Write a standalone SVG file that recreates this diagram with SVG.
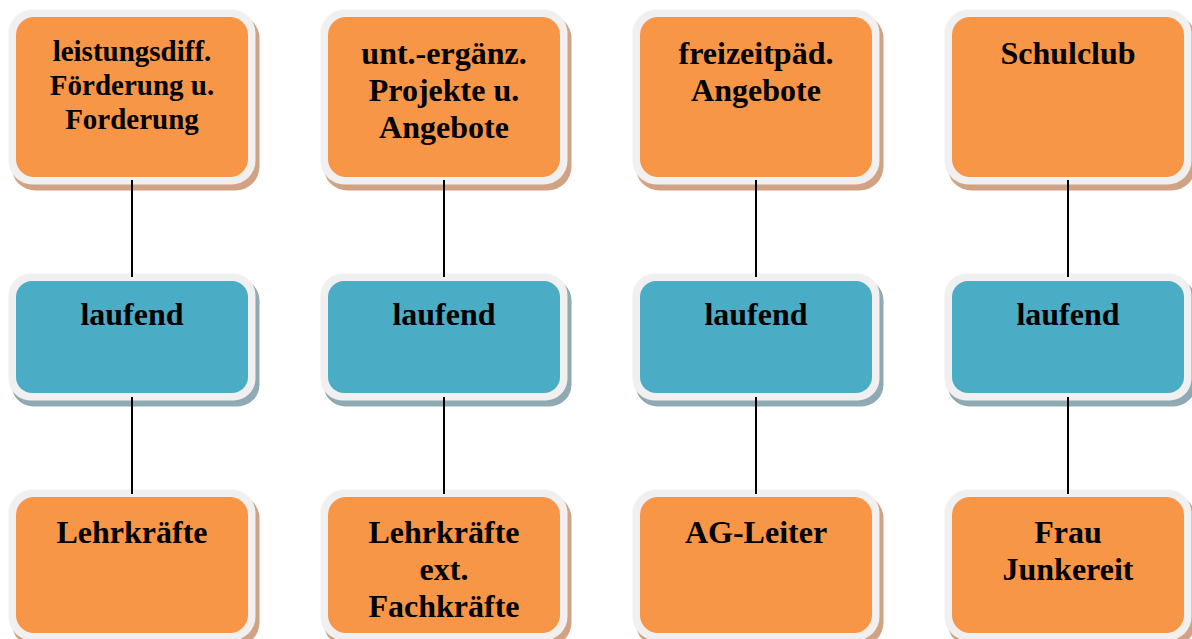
<svg xmlns="http://www.w3.org/2000/svg" width="1192" height="639" viewBox="0 0 1192 639">
  <defs>
    <style>
      .rim { fill: #f0f0f0; }
      .sh-o { fill: #d1a283; }
      .sh-b { fill: #8faab3; }
      .fill-o { fill: #f79646; }
      .fill-b { fill: #4bacc6; }
      .lbl { font-family: "Liberation Serif", "Times New Roman", serif; font-weight: bold; font-size: 32px; fill: #000; text-anchor: middle; }
      .lbl-s { font-size: 29px; }
      .link { stroke: #000; stroke-width: 2; fill: none; }
    </style>
  </defs>
  <rect width="1192" height="639" fill="#ffffff"/>

  <!-- top row -->
  <g id="n-leistung">
    <rect class="sh-o" x="11.5" y="14.5" width="248" height="176" rx="24"/>
    <rect class="rim" x="8.5" y="9.5" width="247" height="175" rx="24"/>
    <rect class="fill-o" x="16" y="17" width="232" height="160" rx="18"/>
    <text class="lbl lbl-s" x="132" y="61">leistungsdiff.</text>
    <text class="lbl lbl-s" x="132" y="95">Förderung u.</text>
    <text class="lbl lbl-s" x="132" y="129">Forderung</text>
  </g>
  <g id="n-projekte">
    <rect class="sh-o" x="323.5" y="14.5" width="248" height="176" rx="24"/>
    <rect class="rim" x="320.5" y="9.5" width="247" height="175" rx="24"/>
    <rect class="fill-o" x="328" y="17" width="232" height="160" rx="18"/>
    <text class="lbl" x="444" y="64">unt.-ergänz.</text>
    <text class="lbl" x="444" y="101">Projekte u.</text>
    <text class="lbl" x="444" y="138">Angebote</text>
  </g>
  <g id="n-freizeit">
    <rect class="sh-o" x="635.5" y="14.5" width="248" height="176" rx="24"/>
    <rect class="rim" x="632.5" y="9.5" width="247" height="175" rx="24"/>
    <rect class="fill-o" x="640" y="17" width="232" height="160" rx="18"/>
    <text class="lbl" x="756" y="64">freizeitpäd.</text>
    <text class="lbl" x="756" y="101">Angebote</text>
  </g>
  <g id="n-schulclub">
    <rect class="sh-o" x="947.5" y="14.5" width="248" height="176" rx="24"/>
    <rect class="rim" x="944.5" y="9.5" width="247" height="175" rx="24"/>
    <rect class="fill-o" x="952" y="17" width="232" height="160" rx="18"/>
    <text class="lbl" x="1068" y="64">Schulclub</text>
  </g>

  <!-- middle row -->
  <g id="n-laufend-1">
    <rect class="sh-b" x="11.5" y="278.5" width="248" height="128" rx="22"/>
    <rect class="rim" x="8.5" y="273.5" width="247" height="127" rx="22"/>
    <rect class="fill-b" x="16" y="281" width="232" height="112" rx="16"/>
    <text class="lbl" x="132" y="325">laufend</text>
  </g>
  <g id="n-laufend-2">
    <rect class="sh-b" x="323.5" y="278.5" width="248" height="128" rx="22"/>
    <rect class="rim" x="320.5" y="273.5" width="247" height="127" rx="22"/>
    <rect class="fill-b" x="328" y="281" width="232" height="112" rx="16"/>
    <text class="lbl" x="444" y="325">laufend</text>
  </g>
  <g id="n-laufend-3">
    <rect class="sh-b" x="635.5" y="278.5" width="248" height="128" rx="22"/>
    <rect class="rim" x="632.5" y="273.5" width="247" height="127" rx="22"/>
    <rect class="fill-b" x="640" y="281" width="232" height="112" rx="16"/>
    <text class="lbl" x="756" y="325">laufend</text>
  </g>
  <g id="n-laufend-4">
    <rect class="sh-b" x="947.5" y="278.5" width="248" height="128" rx="22"/>
    <rect class="rim" x="944.5" y="273.5" width="247" height="127" rx="22"/>
    <rect class="fill-b" x="952" y="281" width="232" height="112" rx="16"/>
    <text class="lbl" x="1068" y="325">laufend</text>
  </g>

  <!-- bottom row -->
  <g id="n-lehrkraefte">
    <rect class="sh-o" x="11.5" y="494.5" width="248" height="152" rx="24"/>
    <rect class="rim" x="8.5" y="489.5" width="247" height="151" rx="24"/>
    <rect class="fill-o" x="16" y="497" width="232" height="136" rx="18"/>
    <text class="lbl" x="132" y="543">Lehrkräfte</text>
  </g>
  <g id="n-fachkraefte">
    <rect class="sh-o" x="323.5" y="494.5" width="248" height="152" rx="24"/>
    <rect class="rim" x="320.5" y="489.5" width="247" height="151" rx="24"/>
    <rect class="fill-o" x="328" y="497" width="232" height="136" rx="18"/>
    <text class="lbl" x="444" y="543">Lehrkräfte</text>
    <text class="lbl" x="444" y="580">ext.</text>
    <text class="lbl" x="444" y="617">Fachkräfte</text>
  </g>
  <g id="n-ag-leiter">
    <rect class="sh-o" x="635.5" y="494.5" width="248" height="152" rx="24"/>
    <rect class="rim" x="632.5" y="489.5" width="247" height="151" rx="24"/>
    <rect class="fill-o" x="640" y="497" width="232" height="136" rx="18"/>
    <text class="lbl" x="756" y="543">AG-Leiter</text>
  </g>
  <g id="n-junkereit">
    <rect class="sh-o" x="947.5" y="494.5" width="248" height="152" rx="24"/>
    <rect class="rim" x="944.5" y="489.5" width="247" height="151" rx="24"/>
    <rect class="fill-o" x="952" y="497" width="232" height="136" rx="18"/>
    <text class="lbl" x="1068" y="543">Frau</text>
    <text class="lbl" x="1068" y="580">Junkereit</text>
  </g>

  <!-- connectors -->
  <g id="connectors">
    <line class="link" x1="132" y1="180" x2="132" y2="277"/>
    <line class="link" x1="132" y1="397" x2="132" y2="494"/>
    <line class="link" x1="444" y1="180" x2="444" y2="277"/>
    <line class="link" x1="444" y1="397" x2="444" y2="494"/>
    <line class="link" x1="756" y1="180" x2="756" y2="277"/>
    <line class="link" x1="756" y1="397" x2="756" y2="494"/>
    <line class="link" x1="1068" y1="180" x2="1068" y2="277"/>
    <line class="link" x1="1068" y1="397" x2="1068" y2="494"/>
  </g>
</svg>
